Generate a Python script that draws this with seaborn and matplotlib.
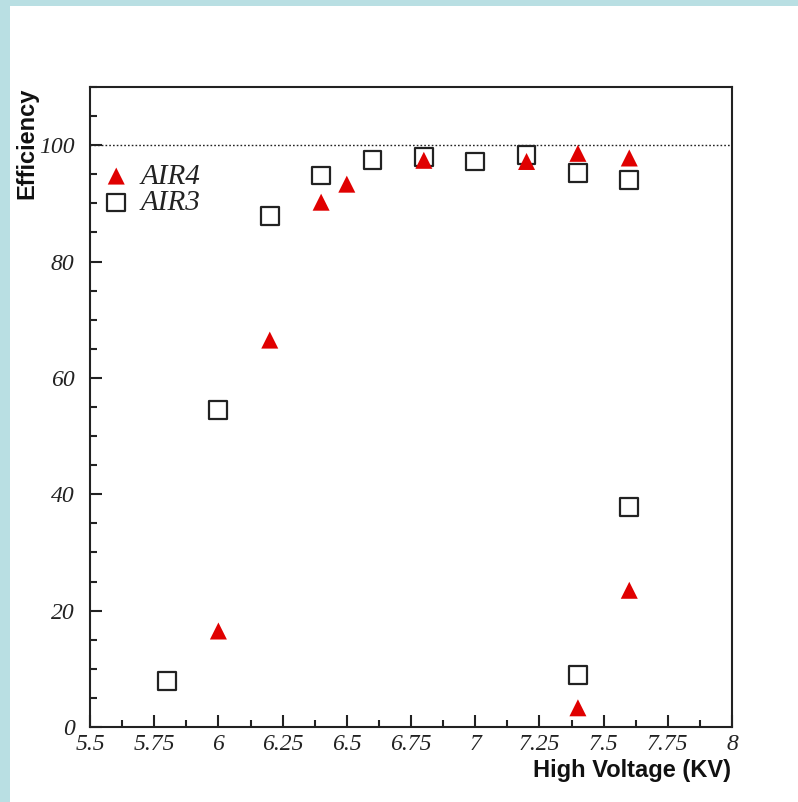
import matplotlib
matplotlib.use("Agg")
import matplotlib.pyplot as plt
import matplotlib.patches as mpatches
import seaborn as sns
import pandas as pd
import numpy as np
from matplotlib.ticker import MultipleLocator, FixedLocator

# ---- data ----
air4_hv = [6.0, 6.2, 6.4, 6.5, 6.8, 7.2, 7.4, 7.6, 7.4, 7.6]
air4_eff = [16.5, 66.5, 90.2, 93.3, 97.4, 97.2, 98.6, 97.8, 3.3, 23.5]
air3_hv = [5.8, 6.0, 6.2, 6.4, 6.6, 6.8, 7.0, 7.2, 7.4, 7.6, 7.4, 7.6]
air3_eff = [7.9, 54.5, 87.8, 94.8, 97.4, 97.9, 97.2, 98.3, 95.2, 94.0, 8.9, 37.8]
x_ticks = [5.5, 5.75, 6, 6.25, 6.5, 6.75, 7, 7.25, 7.5, 7.75, 8]
x_tick_labels = ["5.5", "5.75", "6", "6.25", "6.5", "6.75", "7", "7.25", "7.5", "7.75", "8"]
y_ticks = [0, 20, 40, 60, 80, 100]

df4 = pd.DataFrame({"hv": air4_hv, "eff": air4_eff})
df3 = pd.DataFrame({"hv": air3_hv, "eff": air3_eff})

sns.set_style("white")
W, H = 798, 802
fig = plt.figure(figsize=(W / 100, H / 100), dpi=100)
fig.patch.set_facecolor("#b9dfe3")
fig.patches.append(mpatches.Rectangle((10 / W, 0), 1, 1 - 6 / H, transform=fig.transFigure,
                                      facecolor="white", edgecolor="none", zorder=-1))

ax = fig.add_axes([90 / W, 1 - 727 / H, 642 / W, (727 - 87) / H])
ax.set_facecolor("white")

ax.axhline(100, ls=(0, (1.2, 1.5)), color="#222222", lw=1.0, zorder=1)

sns.scatterplot(data=df4, x="hv", y="eff", marker="^", s=150, color="#e00000",
                edgecolor="none", linewidth=0, ax=ax, label="AIR4", zorder=3)
sns.scatterplot(data=df3, x="hv", y="eff", marker="s", s=165, facecolor="none",
                edgecolor="#222222", linewidth=1.6, ax=ax, label="AIR3", zorder=2)

ax.set_xlim(5.5, 8)
ax.set_ylim(0, 110)
ax.set_xlabel("")
ax.set_ylabel("")

ax.xaxis.set_major_locator(FixedLocator(x_ticks))
ax.set_xticklabels(x_tick_labels)
ax.xaxis.set_minor_locator(MultipleLocator(0.125))
ax.yaxis.set_major_locator(FixedLocator(y_ticks))
ax.yaxis.set_minor_locator(MultipleLocator(5))

for sp in ax.spines.values():
    sp.set_linewidth(1.5)
    sp.set_color("#222222")

ax.tick_params(axis="both", which="both", direction="in", top=False, right=False,
               bottom=True, left=True, color="#222222", width=1.5)
ax.tick_params(axis="both", which="major", length=8.5)
ax.tick_params(axis="both", which="minor", length=5)
ax.tick_params(axis="x", which="major", pad=5)
ax.tick_params(axis="y", which="major", pad=11)

for lab in ax.get_xticklabels() + ax.get_yticklabels():
    lab.set_fontfamily("Liberation Serif")
    lab.set_fontstyle("italic")
    lab.set_fontsize(17)
    lab.set_color("#222222")

leg = ax.legend(loc="upper left", bbox_to_anchor=(0.0, 0.899), frameon=False,
                handlelength=1.0, handletextpad=0.35, labelspacing=0.0,
                borderpad=0.0, borderaxespad=0.4,
                prop={"family": "Liberation Serif", "style": "italic", "size": 21},
                markerscale=1.0)
for t in leg.get_texts():
    t.set_color("#222222")

fig.text(27 / W, 1 - 88 / H, "Efficiency", rotation=90, ha="center", va="top",
         fontfamily="Liberation Sans", fontweight="bold", fontsize=17, color="#111111")
fig.text(731 / W, 1 - 771 / H, "High Voltage (KV)", ha="right", va="center",
         fontfamily="Liberation Sans", fontweight="bold", fontsize=17, color="#111111")

fig.savefig("out.png", dpi=100, facecolor=fig.get_facecolor())
